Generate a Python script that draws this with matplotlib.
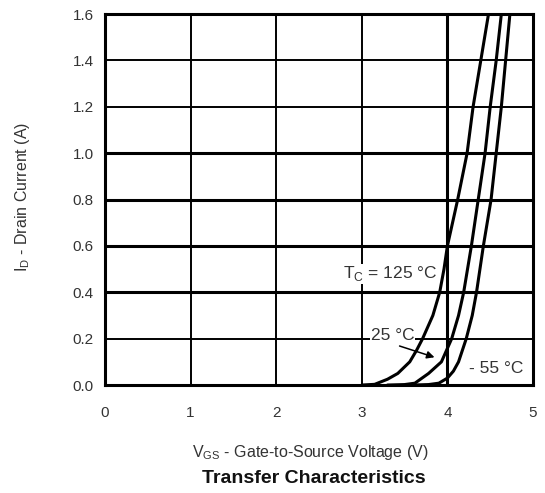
import matplotlib
matplotlib.use('Agg')
import matplotlib.pyplot as plt
plt.rcParams.update({'font.size': 11})
plt.rcParams['font.family'] = ['Liberation Sans', 'DejaVu Sans']

# curves (VGS in V, ID in A)
vgs_125 = [3.0, 3.15, 3.3, 3.42, 3.56, 3.64, 3.71, 3.83, 3.91, 3.96, 4.00, 4.06, 4.12, 4.23, 4.30, 4.39, 4.48]
id_125 = [0.0, 0.003, 0.025, 0.05, 0.1, 0.15, 0.2, 0.3, 0.4, 0.5, 0.6, 0.7, 0.8, 1.0, 1.2, 1.4, 1.6]
vgs_25 = [3.3, 3.5, 3.62, 3.78, 3.87, 3.93, 4.05, 4.13, 4.19, 4.28, 4.36, 4.44, 4.50, 4.57, 4.63]
id_25 = [0.0, 0.002, 0.008, 0.05, 0.08, 0.1, 0.2, 0.3, 0.4, 0.6, 0.8, 1.0, 1.2, 1.4, 1.6]
vgs_m55 = [3.6, 3.78, 3.9, 4.0, 4.07, 4.13, 4.22, 4.29, 4.34, 4.42, 4.51, 4.57, 4.63, 4.68, 4.73]
id_m55 = [0.0, 0.002, 0.008, 0.03, 0.06, 0.1, 0.2, 0.3, 0.4, 0.6, 0.8, 1.0, 1.2, 1.4, 1.6]

xticks = [0, 1, 2, 3, 4, 5]
yticks = [0.0, 0.2, 0.4, 0.6, 0.8, 1.0, 1.2, 1.4, 1.6]
thick_y = [0.4, 0.6, 0.8, 1.0]
txt = '#333333'

fig = plt.figure(figsize=(5.45, 4.93), dpi=100)
ax = fig.add_axes([0.1927, 0.219, 0.7853, 0.7525])

for y in yticks[1:-1]:
    ax.axhline(y, color='k', lw=2.2 if y in thick_y else 1.4, zorder=1)
for x in xticks[1:-1]:
    ax.axvline(x, color='k', lw=2.2 if x == 4 else 1.4, zorder=1)

for v, i in [(vgs_125, id_125), (vgs_25, id_25), (vgs_m55, id_m55)]:
    ax.plot(v, i, color='k', lw=2.2, solid_joinstyle='round', solid_capstyle='round', zorder=3)

ax.set_xlim(0, 5)
ax.set_ylim(0, 1.6)
ax.set_xticks(xticks)
ax.set_yticks(yticks)
ax.set_yticklabels([f'{y:.1f}' for y in yticks])
ax.tick_params(length=0, colors=txt, labelsize=11)
ax.tick_params(axis='x', pad=15)
ax.tick_params(axis='y', pad=8)
for s in ax.spines.values():
    s.set_linewidth(2.2)

# labels sit over the grid but under the curves
ax.text(3.33, 0.48, r'T$_\mathregular{C}$ = 125 °C', ha='center', va='center', color=txt, fontsize=12.5,
        bbox=dict(facecolor='white', edgecolor='none', pad=0.5), zorder=2)
ax.text(3.36, 0.215, '25 °C', ha='center', va='center', color=txt, fontsize=12.5,
        bbox=dict(facecolor='white', edgecolor='none', pad=0.5), zorder=2)
ax.text(4.57, 0.073, '- 55 °C', ha='center', va='center', color=txt, fontsize=12.5, zorder=4)
ax.annotate('', xy=(3.88, 0.116), xytext=(3.41, 0.172),
            arrowprops=dict(arrowstyle='-|>', color='k', lw=1.1, mutation_scale=11), zorder=4)

fig.text(0.570, 0.083, r'V$_\mathregular{GS}$ - Gate-to-Source Voltage (V)', ha='center', va='center',
         color=txt, fontsize=11.5)
fig.text(0.575, 0.03, 'Transfer Characteristics', ha='center', va='center',
         color='#111111', fontsize=14, fontweight='bold')
fig.text(0.042, 0.6, r'I$_\mathregular{D}$ - Drain Current (A)', ha='center', va='center',
         rotation=90, color=txt, fontsize=11.5)

fig.savefig('out.png', dpi=100, facecolor='white')
